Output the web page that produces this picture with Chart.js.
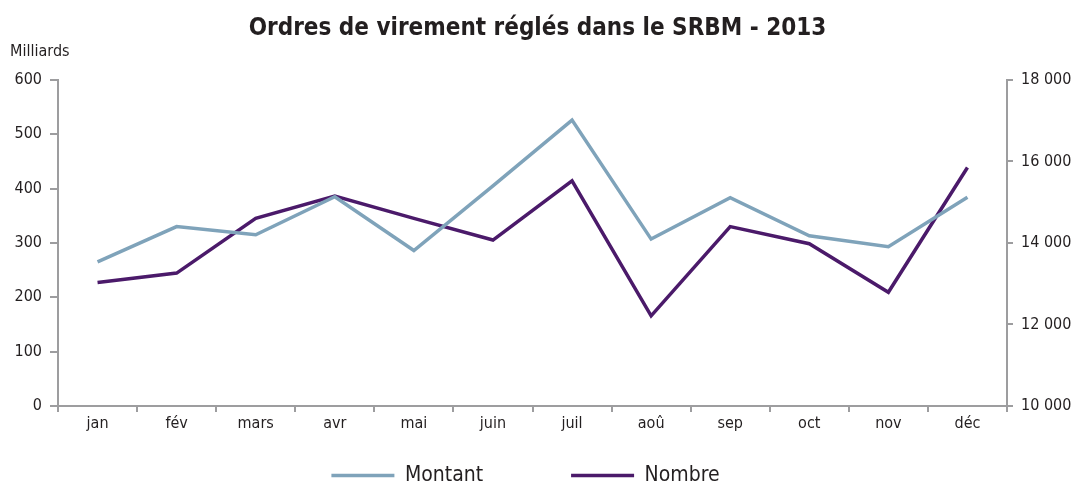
<!DOCTYPE html>
<html>
<head>
<meta charset="utf-8">
<script src="https://cdn.jsdelivr.net/npm/chart.js@4"></script>
<style>
  html, body { margin: 0; padding: 0; background: #fff; }
  #wrap { width: 1075px; height: 486px; }
</style>
</head>
<body>
<div id="wrap"><canvas id="chart"></canvas></div>
<script>
const months = ['jan', 'fév', 'mars', 'avr', 'mai', 'juin', 'juil', 'aoû', 'sep', 'oct', 'nov', 'déc']
const montant = [265, 330, 315, 385, 286, 405, 526, 307, 383, 313, 293, 384]
const nombre = [13030, 13260, 14600, 15150, 14600, 14070, 15520, 12210, 14400, 13980, 12790, 15850]
const leftTicks = [0, 100, 200, 300, 400, 500, 600]
const rightTicks = [10000, 12000, 14000, 16000, 18000]

const fontFamily = '"Liberation Sans Narrow", "DejaVu Sans Condensed", "Open Sans", sans-serif'
const axisGray = '#9d9d9f'
const textColor = '#231f20'

const spaced = (v) => String(v).replace(/\B(?=(\d{3})+(?!\d))/g, ' ')

// small "Milliards" unit over the left axis
const unitLabel = {
  id: 'unitLabel',
  afterDraw(chart) {
    const c = chart.ctx
    c.save()
    c.font = '16px ' + fontFamily
    c.fillStyle = textColor
    c.textAlign = 'left'
    c.textBaseline = 'middle'
    c.fillText('Milliards', 10, 52)
    c.restore()
  }
}

const ctx = document.getElementById('chart')

new Chart(ctx, {
  type: 'line',
  data: {
    labels: months,
    datasets: [{
      label: 'Montant',
      data: montant,
      borderColor: '#7fa3ba',
      backgroundColor: '#7fa3ba',
      borderWidth: 3.5,
      pointRadius: 0,
      tension: 0,
      yAxisID: 'y'
    }, {
      label: 'Nombre',
      data: nombre,
      borderColor: '#4b1a6a',
      backgroundColor: '#4b1a6a',
      borderWidth: 3.5,
      pointRadius: 0,
      tension: 0,
      yAxisID: 'y1'
    }]
  },
  options: {
    responsive: true,
    maintainAspectRatio: false,
    animation: false,
    layout: { padding: { left: 0, right: 0, top: 0, bottom: -10 } },
    plugins: {
      title: {
        display: true,
        text: 'Ordres de virement réglés dans le SRBM - 2013',
        color: textColor,
        font: { family: fontFamily, size: 24, weight: 'bold' },
        padding: { top: 14, bottom: 37 }
      },
      legend: {
        position: 'bottom',
        labels: {
          color: textColor,
          font: { family: fontFamily, size: 21 },
          usePointStyle: true,
          pointStyle: 'line',
          pointStyleWidth: 63,
          boxWidth: 63,
          padding: 10,
          generateLabels: (chart) => {
            const items = Chart.defaults.plugins.legend.labels.generateLabels(chart)
            items[0].text += '             '
            items[1].text += '    '
            return items
          }
        }
      },
      tooltip: { enabled: false }
    },
    scales: {
      x: {
        offset: true,
        afterFit: (axis) => { axis.height = 49 },
        grid: {
          offset: true,
          drawOnChartArea: false,
          color: axisGray,
          lineWidth: 2,
          tickLength: 6
        },
        border: { color: axisGray, width: 2 },
        ticks: {
          color: textColor,
          font: { family: fontFamily, size: 16 },
          padding: 2,
          maxRotation: 0
        }
      },
      y: {
        position: 'left',
        min: 0,
        max: 600,
        afterBuildTicks: (axis) => { axis.ticks = leftTicks.map(v => ({ value: v })) },
        afterFit: (axis) => { axis.width = 58 },
        grid: {
          drawOnChartArea: false,
          color: axisGray,
          lineWidth: 2,
          tickLength: 8
        },
        border: { color: axisGray, width: 2 },
        ticks: {
          color: textColor,
          font: { family: fontFamily, size: 16 },
          padding: 8
        }
      },
      y1: {
        position: 'right',
        min: 10000,
        max: 18000,
        afterBuildTicks: (axis) => { axis.ticks = rightTicks.map(v => ({ value: v })) },
        afterFit: (axis) => { axis.width = 68 },
        grid: {
          drawOnChartArea: false,
          color: axisGray,
          lineWidth: 2,
          tickLength: 6
        },
        border: { color: axisGray, width: 2 },
        ticks: {
          color: textColor,
          font: { family: fontFamily, size: 16 },
          padding: 8,
          callback: (v) => spaced(v)
        }
      }
    }
  },
  plugins: [unitLabel]
})
</script>
</body>
</html>
